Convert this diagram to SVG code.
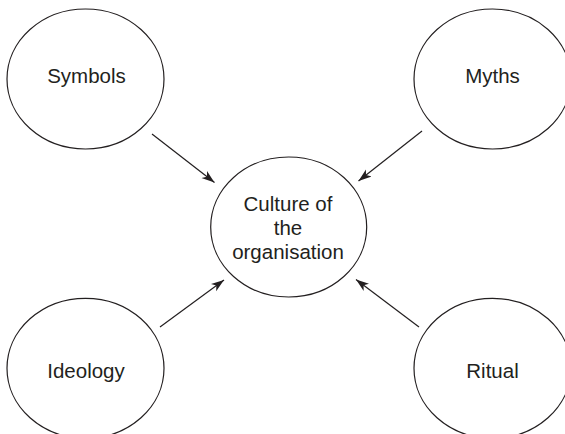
<svg xmlns="http://www.w3.org/2000/svg" width="565" height="434" viewBox="0 0 565 434">
<style>
.n{fill:#fff;stroke:#231f20;stroke-width:1.2}
.t{font-family:"Liberation Sans",Arial,sans-serif;font-size:20.5px;fill:#231f20;text-anchor:middle}
.c{stroke:#231f20;stroke-width:1.2;fill:none;marker-end:url(#ah)}
</style>
<defs>
<marker id="ah" markerUnits="userSpaceOnUse" markerWidth="14" markerHeight="10" refX="13" refY="5" orient="auto">
<path d="M0,0.5 L13,5 L0,9.5 L3.5,5 z" fill="#231f20"/>
</marker>
</defs>
<rect width="565" height="434" fill="#fff"/>
<g id="connectors">
<line class="c" x1="152" y1="134" x2="214.5" y2="182.5"/>
<line class="c" x1="422" y1="131" x2="358.5" y2="181"/>
<line class="c" x1="160" y1="327" x2="224" y2="280"/>
<line class="c" x1="419" y1="327" x2="356" y2="279.5"/>
</g>
<g id="symbols">
<ellipse class="n" cx="85.5" cy="79" rx="78.5" ry="70"/>
<text class="t" x="86.5" y="82.7">Symbols</text>
</g>
<g id="myths">
<ellipse class="n" cx="492.5" cy="79" rx="78.5" ry="70"/>
<text class="t" x="492.5" y="82.7">Myths</text>
</g>
<g id="culture">
<ellipse class="n" cx="288.7" cy="227" rx="78" ry="70"/>
<text class="t" x="288" y="210.7">Culture of</text>
<text class="t" x="288" y="235">the</text>
<text class="t" x="288" y="259">organisation</text>
</g>
<g id="ideology">
<ellipse class="n" cx="85.5" cy="368.3" rx="78.5" ry="70"/>
<text class="t" x="86" y="377.7">Ideology</text>
</g>
<g id="ritual">
<ellipse class="n" cx="492.5" cy="368.3" rx="78.5" ry="70"/>
<text class="t" x="492.5" y="377.7">Ritual</text>
</g>
</svg>
